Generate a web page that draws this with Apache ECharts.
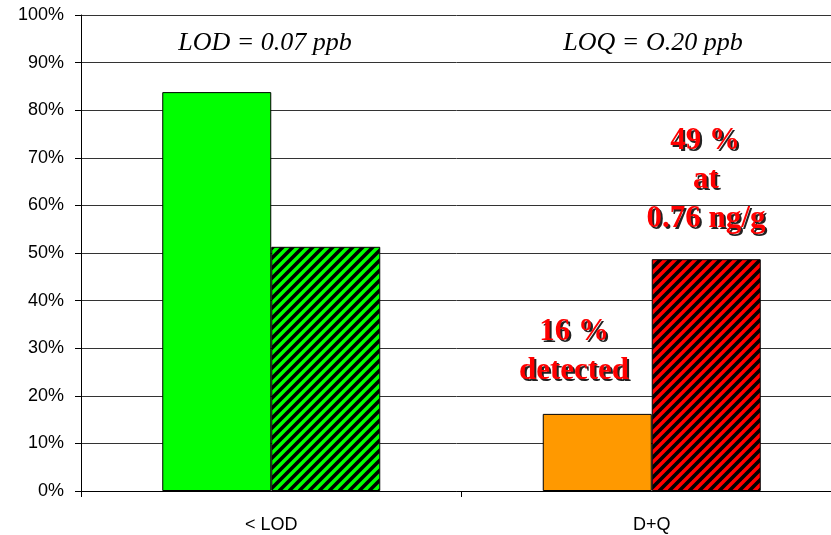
<!DOCTYPE html>
<html><head><meta charset="utf-8">
<script src="https://cdn.jsdelivr.net/npm/echarts@6/dist/echarts.min.js"></script>
<style>html,body{margin:0;padding:0;background:#fff}#c{width:831px;height:535px}</style>
</head><body><div id="c"></div>
<script>
const categories = ['< LOD', 'D+Q'];
const solidValues = [83.8, 16.2];
const hatchedValues = [51.3, 48.7];
const solidColors = ['#00ff00', '#ff9900'];
const hatchedColors = ['#00ff00', '#ff0000'];
const yTicks = [0,10,20,30,40,50,60,70,80,90,100];
const headerTexts = ['LOD = 0.07 ppb', 'LOQ = O.20 ppb'];
const noteRight = ['49 %', 'at', '0.76 ng/g'];
const noteLeft = ['16 %', 'detected'];

function hatch(bg) {
  const s = 10;
  const c = document.createElement('canvas');
  c.width = s; c.height = s;
  const g = c.getContext('2d');
  g.fillStyle = bg; g.fillRect(0, 0, s, s);
  g.strokeStyle = '#000'; g.lineWidth = 3.6;
  g.beginPath();
  for (let k = -1; k <= 1; k++) {
    g.moveTo(k * s - 1, s + 1); g.lineTo(k * s + s + 1, -1);
  }
  g.stroke();
  return { image: c, repeat: 'repeat' };
}

const redFont = 'bold 31px "Liberation Serif", "Times New Roman", serif';
function redLabel(text, x, y) {
  return [
    { type: 'text', x: x + 2, y: y + 2, z: 10, style: { text, fill: '#222', font: redFont, textAlign: 'center', textVerticalAlign: 'middle' } },
    { type: 'text', x: x, y: y, z: 11, style: { text, fill: '#ff0000', font: redFont, textAlign: 'center', textVerticalAlign: 'middle' } }
  ];
}
const headerFont = 'italic 26px "Liberation Serif", "Times New Roman", serif';

const chart = echarts.init(document.getElementById('c'));
chart.setOption({
  animation: false,
  grid: { left: 81, width: 761, top: 15, bottom: 44, containLabel: false, outerBoundsMode: 'none' },
  xAxis: {
    type: 'category', data: categories,
    axisLine: { lineStyle: { color: '#000', width: 1 } },
    axisTick: { show: true, length: 6, lineStyle: { color: '#000' } },
    axisLabel: { color: '#000', fontSize: 18, fontFamily: 'Liberation Sans, Arial, sans-serif', margin: 25 }
  },
  yAxis: {
    type: 'value', min: 0, max: 100, interval: 10,
    axisLine: { show: true, lineStyle: { color: '#000' } },
    axisTick: { show: true, length: 6, lineStyle: { color: '#000' } },
    axisLabel: { formatter: '{value}%', color: '#000', fontSize: 18, fontFamily: 'Liberation Sans, Arial, sans-serif', margin: 17 },
    splitLine: { lineStyle: { color: '#333', width: 1 } }
  },
  series: [
    {
      type: 'bar', data: solidValues.map((v, i) => ({ value: v, itemStyle: { color: solidColors[i] } })),
      barWidth: 109, barGap: '0%',
      itemStyle: { borderColor: '#000', borderWidth: 1 }
    },
    {
      type: 'bar', data: hatchedValues.map((v, i) => ({ value: v, itemStyle: { color: hatch(hatchedColors[i]) } })),
      barWidth: 109, barGap: '0%',
      itemStyle: { borderColor: '#000', borderWidth: 1 }
    }
  ],
  graphic: [
    { type: 'text', x: 265, y: 43, style: { text: headerTexts[0], fill: '#000', font: headerFont, textAlign: 'center', textVerticalAlign: 'middle' } },
    { type: 'text', x: 653, y: 43, style: { text: headerTexts[1], fill: '#000', font: headerFont, textAlign: 'center', textVerticalAlign: 'middle' } },
    ...redLabel(noteRight[0], 705, 141),
    ...redLabel(noteRight[1], 706, 180),
    ...redLabel(noteRight[2], 706, 219),
    ...redLabel(noteLeft[0], 574, 332),
    ...redLabel(noteLeft[1], 574, 371)
  ]
});
</script></body></html>
